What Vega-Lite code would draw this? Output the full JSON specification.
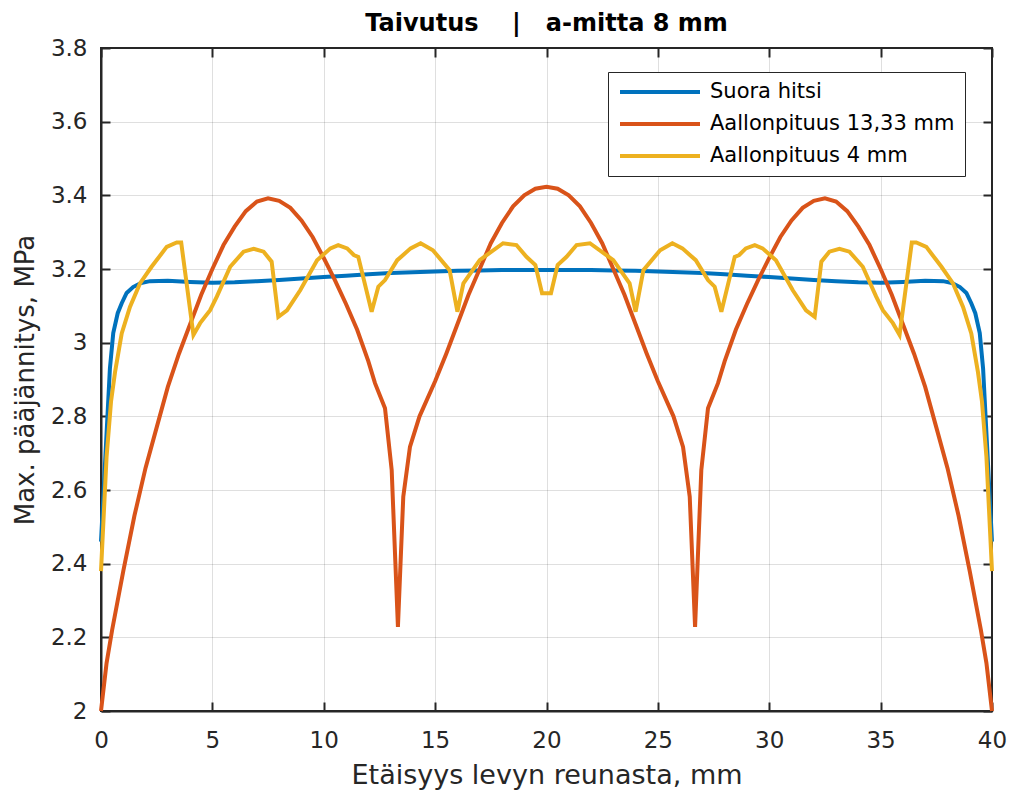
{
  "$schema": "https://vega.github.io/schema/vega-lite/v6.json",
  "width": 891,
  "height": 663,
  "autosize": {"type": "none"},
  "padding": {"left": 101, "top": 48, "right": 21, "bottom": 83},
  "background": "white",
  "config": {
    "font": "DejaVu Sans",
    "view": {"stroke": "#262626", "strokeWidth": 2},
    "axis": {
      "domainColor": "#262626", "domainWidth": 2,
      "tickColor": "#262626", "tickWidth": 2, "tickSize": -9,
      "gridColor": "#262626", "gridOpacity": 0.15, "gridWidth": 1
    }
  },
  "title": {
    "text": "Taivutus\u00a0\u00a0\u00a0\u00a0|\u00a0\u00a0\u00a0a-mitta 8 mm",
    "font": "DejaVu Sans", "fontSize": 24, "fontWeight": "bold", "color": "#000000",
    "anchor": "middle", "frame": "group", "offset": 1
  },
  "data": {"values": [
    {"x": 0, "y": 2.46, "s": "Suora hitsi"},
    {"x": 0.4, "y": 2.93, "s": "Suora hitsi"},
    {"x": 0.55, "y": 3.026, "s": "Suora hitsi"},
    {"x": 0.75, "y": 3.08, "s": "Suora hitsi"},
    {"x": 0.93, "y": 3.107, "s": "Suora hitsi"},
    {"x": 1.15, "y": 3.135, "s": "Suora hitsi"},
    {"x": 1.44, "y": 3.151, "s": "Suora hitsi"},
    {"x": 1.8, "y": 3.162, "s": "Suora hitsi"},
    {"x": 2.2, "y": 3.167, "s": "Suora hitsi"},
    {"x": 3, "y": 3.168, "s": "Suora hitsi"},
    {"x": 4, "y": 3.165, "s": "Suora hitsi"},
    {"x": 5, "y": 3.163, "s": "Suora hitsi"},
    {"x": 6, "y": 3.164, "s": "Suora hitsi"},
    {"x": 7, "y": 3.167, "s": "Suora hitsi"},
    {"x": 8, "y": 3.17, "s": "Suora hitsi"},
    {"x": 9, "y": 3.174, "s": "Suora hitsi"},
    {"x": 10, "y": 3.178, "s": "Suora hitsi"},
    {"x": 11, "y": 3.182, "s": "Suora hitsi"},
    {"x": 12, "y": 3.186, "s": "Suora hitsi"},
    {"x": 13, "y": 3.189, "s": "Suora hitsi"},
    {"x": 14, "y": 3.191, "s": "Suora hitsi"},
    {"x": 15, "y": 3.193, "s": "Suora hitsi"},
    {"x": 16, "y": 3.195, "s": "Suora hitsi"},
    {"x": 17, "y": 3.196, "s": "Suora hitsi"},
    {"x": 18, "y": 3.197, "s": "Suora hitsi"},
    {"x": 19, "y": 3.197, "s": "Suora hitsi"},
    {"x": 20, "y": 3.197, "s": "Suora hitsi"},
    {"x": 21, "y": 3.197, "s": "Suora hitsi"},
    {"x": 22, "y": 3.197, "s": "Suora hitsi"},
    {"x": 23, "y": 3.196, "s": "Suora hitsi"},
    {"x": 24, "y": 3.195, "s": "Suora hitsi"},
    {"x": 25, "y": 3.193, "s": "Suora hitsi"},
    {"x": 26, "y": 3.191, "s": "Suora hitsi"},
    {"x": 27, "y": 3.189, "s": "Suora hitsi"},
    {"x": 28, "y": 3.186, "s": "Suora hitsi"},
    {"x": 29, "y": 3.182, "s": "Suora hitsi"},
    {"x": 30, "y": 3.178, "s": "Suora hitsi"},
    {"x": 31, "y": 3.174, "s": "Suora hitsi"},
    {"x": 32, "y": 3.17, "s": "Suora hitsi"},
    {"x": 33, "y": 3.167, "s": "Suora hitsi"},
    {"x": 34, "y": 3.164, "s": "Suora hitsi"},
    {"x": 35, "y": 3.163, "s": "Suora hitsi"},
    {"x": 36, "y": 3.165, "s": "Suora hitsi"},
    {"x": 37, "y": 3.168, "s": "Suora hitsi"},
    {"x": 37.8, "y": 3.167, "s": "Suora hitsi"},
    {"x": 38.2, "y": 3.162, "s": "Suora hitsi"},
    {"x": 38.56, "y": 3.151, "s": "Suora hitsi"},
    {"x": 38.85, "y": 3.135, "s": "Suora hitsi"},
    {"x": 39.07, "y": 3.107, "s": "Suora hitsi"},
    {"x": 39.25, "y": 3.08, "s": "Suora hitsi"},
    {"x": 39.45, "y": 3.026, "s": "Suora hitsi"},
    {"x": 39.6, "y": 2.93, "s": "Suora hitsi"},
    {"x": 40, "y": 2.46, "s": "Suora hitsi"},

    {"x": 0, "y": 2.0, "s": "Aallonpituus 13,33 mm"},
    {"x": 0.25, "y": 2.13, "s": "Aallonpituus 13,33 mm"},
    {"x": 0.5, "y": 2.22, "s": "Aallonpituus 13,33 mm"},
    {"x": 1.0, "y": 2.38, "s": "Aallonpituus 13,33 mm"},
    {"x": 1.5, "y": 2.53, "s": "Aallonpituus 13,33 mm"},
    {"x": 2, "y": 2.66, "s": "Aallonpituus 13,33 mm"},
    {"x": 2.5, "y": 2.77, "s": "Aallonpituus 13,33 mm"},
    {"x": 3, "y": 2.88, "s": "Aallonpituus 13,33 mm"},
    {"x": 3.5, "y": 2.97, "s": "Aallonpituus 13,33 mm"},
    {"x": 4, "y": 3.05, "s": "Aallonpituus 13,33 mm"},
    {"x": 4.5, "y": 3.13, "s": "Aallonpituus 13,33 mm"},
    {"x": 5, "y": 3.2, "s": "Aallonpituus 13,33 mm"},
    {"x": 5.5, "y": 3.265, "s": "Aallonpituus 13,33 mm"},
    {"x": 6, "y": 3.315, "s": "Aallonpituus 13,33 mm"},
    {"x": 6.5, "y": 3.357, "s": "Aallonpituus 13,33 mm"},
    {"x": 7, "y": 3.383, "s": "Aallonpituus 13,33 mm"},
    {"x": 7.5, "y": 3.392, "s": "Aallonpituus 13,33 mm"},
    {"x": 8, "y": 3.385, "s": "Aallonpituus 13,33 mm"},
    {"x": 8.5, "y": 3.366, "s": "Aallonpituus 13,33 mm"},
    {"x": 9, "y": 3.332, "s": "Aallonpituus 13,33 mm"},
    {"x": 9.5, "y": 3.287, "s": "Aallonpituus 13,33 mm"},
    {"x": 10, "y": 3.23, "s": "Aallonpituus 13,33 mm"},
    {"x": 10.5, "y": 3.17, "s": "Aallonpituus 13,33 mm"},
    {"x": 11, "y": 3.105, "s": "Aallonpituus 13,33 mm"},
    {"x": 11.5, "y": 3.035, "s": "Aallonpituus 13,33 mm"},
    {"x": 12, "y": 2.95, "s": "Aallonpituus 13,33 mm"},
    {"x": 12.3, "y": 2.89, "s": "Aallonpituus 13,33 mm"},
    {"x": 12.75, "y": 2.822, "s": "Aallonpituus 13,33 mm"},
    {"x": 13.05, "y": 2.654, "s": "Aallonpituus 13,33 mm"},
    {"x": 13.33, "y": 2.228, "s": "Aallonpituus 13,33 mm"},
    {"x": 13.57, "y": 2.582, "s": "Aallonpituus 13,33 mm"},
    {"x": 13.87, "y": 2.717, "s": "Aallonpituus 13,33 mm"},
    {"x": 14.3, "y": 2.8, "s": "Aallonpituus 13,33 mm"},
    {"x": 15, "y": 2.895, "s": "Aallonpituus 13,33 mm"},
    {"x": 15.5, "y": 2.97, "s": "Aallonpituus 13,33 mm"},
    {"x": 16, "y": 3.05, "s": "Aallonpituus 13,33 mm"},
    {"x": 16.5, "y": 3.13, "s": "Aallonpituus 13,33 mm"},
    {"x": 17, "y": 3.2, "s": "Aallonpituus 13,33 mm"},
    {"x": 17.5, "y": 3.27, "s": "Aallonpituus 13,33 mm"},
    {"x": 18, "y": 3.325, "s": "Aallonpituus 13,33 mm"},
    {"x": 18.5, "y": 3.37, "s": "Aallonpituus 13,33 mm"},
    {"x": 19, "y": 3.4, "s": "Aallonpituus 13,33 mm"},
    {"x": 19.5, "y": 3.418, "s": "Aallonpituus 13,33 mm"},
    {"x": 20, "y": 3.423, "s": "Aallonpituus 13,33 mm"},
    {"x": 20.5, "y": 3.418, "s": "Aallonpituus 13,33 mm"},
    {"x": 21, "y": 3.4, "s": "Aallonpituus 13,33 mm"},
    {"x": 21.5, "y": 3.37, "s": "Aallonpituus 13,33 mm"},
    {"x": 22, "y": 3.325, "s": "Aallonpituus 13,33 mm"},
    {"x": 22.5, "y": 3.27, "s": "Aallonpituus 13,33 mm"},
    {"x": 23, "y": 3.2, "s": "Aallonpituus 13,33 mm"},
    {"x": 23.5, "y": 3.13, "s": "Aallonpituus 13,33 mm"},
    {"x": 24, "y": 3.05, "s": "Aallonpituus 13,33 mm"},
    {"x": 24.5, "y": 2.97, "s": "Aallonpituus 13,33 mm"},
    {"x": 25, "y": 2.895, "s": "Aallonpituus 13,33 mm"},
    {"x": 25.7, "y": 2.8, "s": "Aallonpituus 13,33 mm"},
    {"x": 26.13, "y": 2.717, "s": "Aallonpituus 13,33 mm"},
    {"x": 26.43, "y": 2.582, "s": "Aallonpituus 13,33 mm"},
    {"x": 26.67, "y": 2.228, "s": "Aallonpituus 13,33 mm"},
    {"x": 26.95, "y": 2.654, "s": "Aallonpituus 13,33 mm"},
    {"x": 27.25, "y": 2.822, "s": "Aallonpituus 13,33 mm"},
    {"x": 27.7, "y": 2.89, "s": "Aallonpituus 13,33 mm"},
    {"x": 28, "y": 2.95, "s": "Aallonpituus 13,33 mm"},
    {"x": 28.5, "y": 3.035, "s": "Aallonpituus 13,33 mm"},
    {"x": 29, "y": 3.105, "s": "Aallonpituus 13,33 mm"},
    {"x": 29.5, "y": 3.17, "s": "Aallonpituus 13,33 mm"},
    {"x": 30, "y": 3.23, "s": "Aallonpituus 13,33 mm"},
    {"x": 30.5, "y": 3.287, "s": "Aallonpituus 13,33 mm"},
    {"x": 31, "y": 3.332, "s": "Aallonpituus 13,33 mm"},
    {"x": 31.5, "y": 3.366, "s": "Aallonpituus 13,33 mm"},
    {"x": 32, "y": 3.385, "s": "Aallonpituus 13,33 mm"},
    {"x": 32.5, "y": 3.392, "s": "Aallonpituus 13,33 mm"},
    {"x": 33, "y": 3.383, "s": "Aallonpituus 13,33 mm"},
    {"x": 33.5, "y": 3.357, "s": "Aallonpituus 13,33 mm"},
    {"x": 34, "y": 3.315, "s": "Aallonpituus 13,33 mm"},
    {"x": 34.5, "y": 3.265, "s": "Aallonpituus 13,33 mm"},
    {"x": 35, "y": 3.2, "s": "Aallonpituus 13,33 mm"},
    {"x": 35.5, "y": 3.13, "s": "Aallonpituus 13,33 mm"},
    {"x": 36, "y": 3.05, "s": "Aallonpituus 13,33 mm"},
    {"x": 36.5, "y": 2.97, "s": "Aallonpituus 13,33 mm"},
    {"x": 37, "y": 2.88, "s": "Aallonpituus 13,33 mm"},
    {"x": 37.5, "y": 2.77, "s": "Aallonpituus 13,33 mm"},
    {"x": 38, "y": 2.66, "s": "Aallonpituus 13,33 mm"},
    {"x": 38.5, "y": 2.53, "s": "Aallonpituus 13,33 mm"},
    {"x": 39, "y": 2.38, "s": "Aallonpituus 13,33 mm"},
    {"x": 39.5, "y": 2.22, "s": "Aallonpituus 13,33 mm"},
    {"x": 39.75, "y": 2.13, "s": "Aallonpituus 13,33 mm"},
    {"x": 40, "y": 2.0, "s": "Aallonpituus 13,33 mm"},

    {"x": 0, "y": 2.38, "s": "Aallonpituus 4 mm"},
    {"x": 0.25, "y": 2.69, "s": "Aallonpituus 4 mm"},
    {"x": 0.45, "y": 2.84, "s": "Aallonpituus 4 mm"},
    {"x": 0.63, "y": 2.92, "s": "Aallonpituus 4 mm"},
    {"x": 0.93, "y": 3.025, "s": "Aallonpituus 4 mm"},
    {"x": 1.3, "y": 3.097, "s": "Aallonpituus 4 mm"},
    {"x": 1.75, "y": 3.161, "s": "Aallonpituus 4 mm"},
    {"x": 2.27, "y": 3.206, "s": "Aallonpituus 4 mm"},
    {"x": 2.95, "y": 3.26, "s": "Aallonpituus 4 mm"},
    {"x": 3.4, "y": 3.272, "s": "Aallonpituus 4 mm"},
    {"x": 3.6, "y": 3.272, "s": "Aallonpituus 4 mm"},
    {"x": 4.15, "y": 3.021, "s": "Aallonpituus 4 mm"},
    {"x": 4.45, "y": 3.053, "s": "Aallonpituus 4 mm"},
    {"x": 4.9, "y": 3.088, "s": "Aallonpituus 4 mm"},
    {"x": 5.2, "y": 3.125, "s": "Aallonpituus 4 mm"},
    {"x": 5.8, "y": 3.206, "s": "Aallonpituus 4 mm"},
    {"x": 6.4, "y": 3.247, "s": "Aallonpituus 4 mm"},
    {"x": 6.85, "y": 3.255, "s": "Aallonpituus 4 mm"},
    {"x": 7.3, "y": 3.247, "s": "Aallonpituus 4 mm"},
    {"x": 7.66, "y": 3.22, "s": "Aallonpituus 4 mm"},
    {"x": 7.96, "y": 3.07, "s": "Aallonpituus 4 mm"},
    {"x": 8.35, "y": 3.088, "s": "Aallonpituus 4 mm"},
    {"x": 8.95, "y": 3.143, "s": "Aallonpituus 4 mm"},
    {"x": 9.7, "y": 3.224, "s": "Aallonpituus 4 mm"},
    {"x": 10.3, "y": 3.256, "s": "Aallonpituus 4 mm"},
    {"x": 10.65, "y": 3.265, "s": "Aallonpituus 4 mm"},
    {"x": 11.05, "y": 3.256, "s": "Aallonpituus 4 mm"},
    {"x": 11.35, "y": 3.238, "s": "Aallonpituus 4 mm"},
    {"x": 11.55, "y": 3.233, "s": "Aallonpituus 4 mm"},
    {"x": 12.15, "y": 3.084, "s": "Aallonpituus 4 mm"},
    {"x": 12.45, "y": 3.152, "s": "Aallonpituus 4 mm"},
    {"x": 12.75, "y": 3.17, "s": "Aallonpituus 4 mm"},
    {"x": 13.3, "y": 3.224, "s": "Aallonpituus 4 mm"},
    {"x": 13.9, "y": 3.256, "s": "Aallonpituus 4 mm"},
    {"x": 14.35, "y": 3.27, "s": "Aallonpituus 4 mm"},
    {"x": 14.9, "y": 3.251, "s": "Aallonpituus 4 mm"},
    {"x": 15.65, "y": 3.197, "s": "Aallonpituus 4 mm"},
    {"x": 16.0, "y": 3.084, "s": "Aallonpituus 4 mm"},
    {"x": 16.27, "y": 3.161, "s": "Aallonpituus 4 mm"},
    {"x": 17.0, "y": 3.224, "s": "Aallonpituus 4 mm"},
    {"x": 18.05, "y": 3.27, "s": "Aallonpituus 4 mm"},
    {"x": 18.65, "y": 3.265, "s": "Aallonpituus 4 mm"},
    {"x": 19.1, "y": 3.233, "s": "Aallonpituus 4 mm"},
    {"x": 19.5, "y": 3.211, "s": "Aallonpituus 4 mm"},
    {"x": 19.8, "y": 3.134, "s": "Aallonpituus 4 mm"},
    {"x": 20.0, "y": 3.134, "s": "Aallonpituus 4 mm"},
    {"x": 20.2, "y": 3.134, "s": "Aallonpituus 4 mm"},
    {"x": 20.5, "y": 3.211, "s": "Aallonpituus 4 mm"},
    {"x": 20.9, "y": 3.233, "s": "Aallonpituus 4 mm"},
    {"x": 21.35, "y": 3.265, "s": "Aallonpituus 4 mm"},
    {"x": 21.95, "y": 3.27, "s": "Aallonpituus 4 mm"},
    {"x": 23.0, "y": 3.224, "s": "Aallonpituus 4 mm"},
    {"x": 23.73, "y": 3.161, "s": "Aallonpituus 4 mm"},
    {"x": 24.0, "y": 3.084, "s": "Aallonpituus 4 mm"},
    {"x": 24.35, "y": 3.197, "s": "Aallonpituus 4 mm"},
    {"x": 25.1, "y": 3.251, "s": "Aallonpituus 4 mm"},
    {"x": 25.65, "y": 3.27, "s": "Aallonpituus 4 mm"},
    {"x": 26.1, "y": 3.256, "s": "Aallonpituus 4 mm"},
    {"x": 26.7, "y": 3.224, "s": "Aallonpituus 4 mm"},
    {"x": 27.25, "y": 3.17, "s": "Aallonpituus 4 mm"},
    {"x": 27.55, "y": 3.152, "s": "Aallonpituus 4 mm"},
    {"x": 27.85, "y": 3.084, "s": "Aallonpituus 4 mm"},
    {"x": 28.45, "y": 3.233, "s": "Aallonpituus 4 mm"},
    {"x": 28.65, "y": 3.238, "s": "Aallonpituus 4 mm"},
    {"x": 28.95, "y": 3.256, "s": "Aallonpituus 4 mm"},
    {"x": 29.35, "y": 3.265, "s": "Aallonpituus 4 mm"},
    {"x": 29.7, "y": 3.256, "s": "Aallonpituus 4 mm"},
    {"x": 30.3, "y": 3.224, "s": "Aallonpituus 4 mm"},
    {"x": 31.05, "y": 3.143, "s": "Aallonpituus 4 mm"},
    {"x": 31.65, "y": 3.088, "s": "Aallonpituus 4 mm"},
    {"x": 32.04, "y": 3.07, "s": "Aallonpituus 4 mm"},
    {"x": 32.34, "y": 3.22, "s": "Aallonpituus 4 mm"},
    {"x": 32.7, "y": 3.247, "s": "Aallonpituus 4 mm"},
    {"x": 33.15, "y": 3.255, "s": "Aallonpituus 4 mm"},
    {"x": 33.6, "y": 3.247, "s": "Aallonpituus 4 mm"},
    {"x": 34.2, "y": 3.206, "s": "Aallonpituus 4 mm"},
    {"x": 34.8, "y": 3.125, "s": "Aallonpituus 4 mm"},
    {"x": 35.1, "y": 3.088, "s": "Aallonpituus 4 mm"},
    {"x": 35.55, "y": 3.053, "s": "Aallonpituus 4 mm"},
    {"x": 35.85, "y": 3.021, "s": "Aallonpituus 4 mm"},
    {"x": 36.4, "y": 3.272, "s": "Aallonpituus 4 mm"},
    {"x": 36.6, "y": 3.272, "s": "Aallonpituus 4 mm"},
    {"x": 37.05, "y": 3.26, "s": "Aallonpituus 4 mm"},
    {"x": 37.73, "y": 3.206, "s": "Aallonpituus 4 mm"},
    {"x": 38.25, "y": 3.161, "s": "Aallonpituus 4 mm"},
    {"x": 38.7, "y": 3.097, "s": "Aallonpituus 4 mm"},
    {"x": 39.07, "y": 3.025, "s": "Aallonpituus 4 mm"},
    {"x": 39.37, "y": 2.92, "s": "Aallonpituus 4 mm"},
    {"x": 39.55, "y": 2.84, "s": "Aallonpituus 4 mm"},
    {"x": 39.75, "y": 2.69, "s": "Aallonpituus 4 mm"},
    {"x": 40, "y": 2.38, "s": "Aallonpituus 4 mm"}
  ]},
  "layer": [
    {
      "encoding": {
        "x": {"field": "x", "type": "quantitative",
              "scale": {"domain": [0, 40], "nice": false, "zero": false},
              "axis": {"values": [0, 5, 10, 15, 20, 25, 30, 35, 40], "title": "Etäisyys levyn reunasta, mm",
                       "labelFont": "DejaVu Sans", "labelFontSize": 23, "labelColor": "#262626", "labelPadding": 27, "labelFlush": false,
                       "titleFont": "DejaVu Sans", "titleFontSize": 27, "titleFontWeight": "normal", "titleColor": "#262626", "titlePadding": 10}},
        "y": {"field": "y", "type": "quantitative",
              "scale": {"domain": [2, 3.8], "nice": false, "zero": false},
              "axis": {"values": [2, 2.2, 2.4, 2.6, 2.8, 3, 3.2, 3.4, 3.6, 3.8], "format": "~g", "title": "Max. pääjännitys, MPa",
                       "labelFont": "DejaVu Sans", "labelFontSize": 23, "labelColor": "#262626", "labelPadding": 23, "labelFlush": false,
                       "titleFont": "DejaVu Sans", "titleFontSize": 26, "titleFontWeight": "normal", "titleColor": "#262626", "titlePadding": 12}},
        "color": {"field": "s", "type": "nominal",
                  "scale": {"domain": ["Suora hitsi", "Aallonpituus 13,33 mm", "Aallonpituus 4 mm"], "range": ["#0072BD", "#D95319", "#EDB120"]},
                  "legend": {"orient": "none", "legendX": 507, "legendY": 24, "title": null,
                             "symbolType": "stroke", "symbolSize": 6400, "symbolStrokeWidth": 4, "clipHeight": 20,
                             "labelFontSize": 21, "labelFont": "DejaVu Sans", "labelColor": "#000000", "labelLimit": 400,
                             "labelOffset": 8, "rowPadding": 11, "padding": 10,
                             "strokeColor": "#262626", "fillColor": "white", "cornerRadius": 0}}
      },
      "layer": [
        {"transform": [{"filter": "datum.s == 'Suora hitsi'"}], "mark": {"type": "line", "strokeWidth": 4}},
        {"transform": [{"filter": "datum.s == 'Aallonpituus 13,33 mm'"}], "mark": {"type": "line", "strokeWidth": 4}},
        {"transform": [{"filter": "datum.s == 'Aallonpituus 4 mm'"}], "mark": {"type": "line", "strokeWidth": 4}}
      ]
    },
    {
      "mark": {"type": "line", "opacity": 0},
      "encoding": {
        "x": {"field": "x", "type": "quantitative",
              "scale": {"domain": [0, 40], "nice": false, "zero": false},
              "axis": {"orient": "top", "values": [0, 5, 10, 15, 20, 25, 30, 35, 40], "labels": false, "grid": false, "domain": false, "title": null}},
        "y": {"field": "y", "type": "quantitative",
              "scale": {"domain": [2, 3.8], "nice": false, "zero": false},
              "axis": {"orient": "right", "values": [2, 2.2, 2.4, 2.6, 2.8, 3, 3.2, 3.4, 3.6, 3.8], "labels": false, "grid": false, "domain": false, "title": null}},
        "detail": {"field": "s"}
      }
    }
  ],
  "resolve": {"scale": {"x": "independent", "y": "independent"}}
}
